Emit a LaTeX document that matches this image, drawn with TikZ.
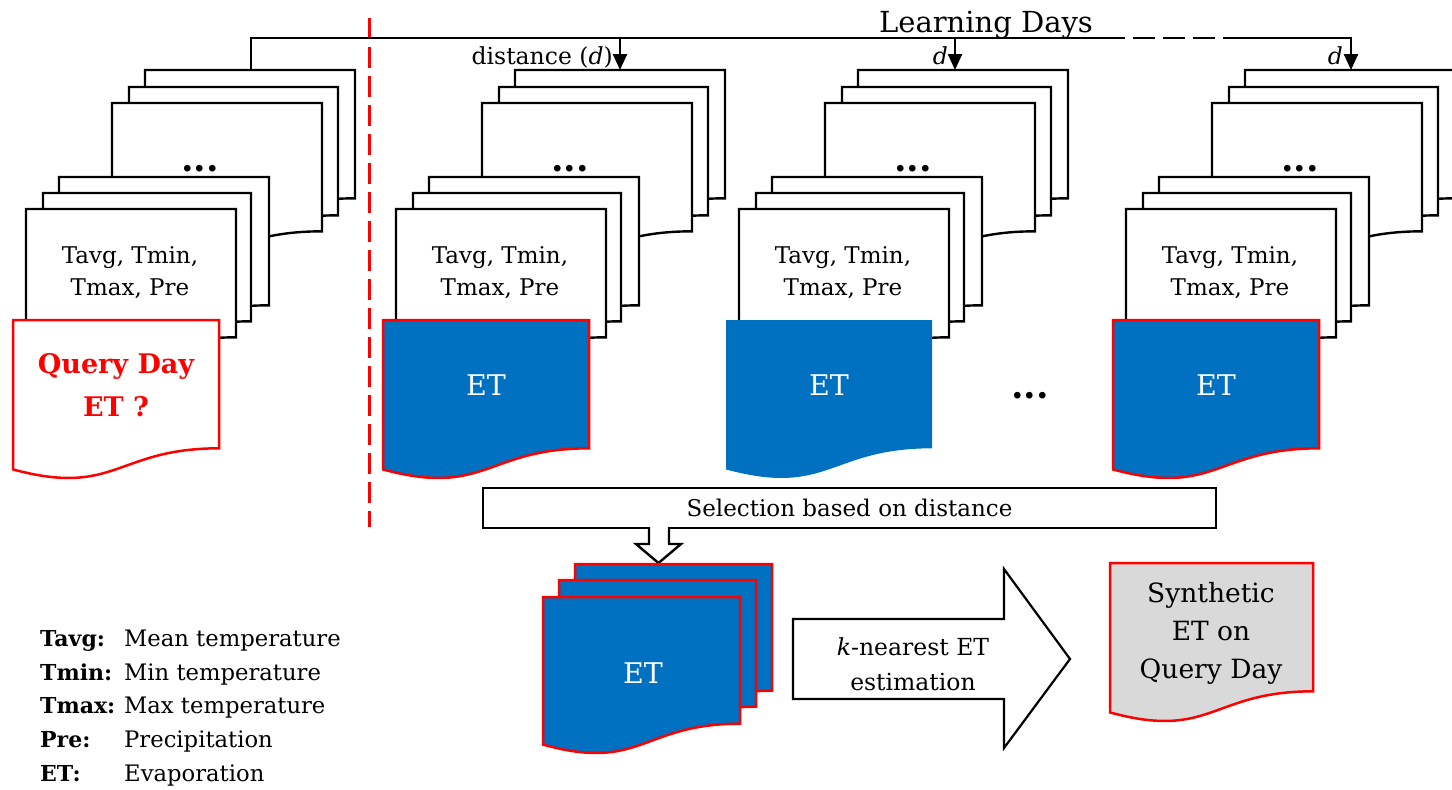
\documentclass[tikz,border=0pt]{standalone}
\usepackage{fontspec}
\setmainfont{DejaVu Serif}
\usetikzlibrary{arrows.meta}
\definecolor{etblue}{HTML}{0070C0}
\definecolor{synthgray}{HTML}{D9D9D9}
% document shape: style, left, top, width, height
\newcommand\mydoc[5]{\path[#1] (#2,#3) -- ({#2+#4},#3) -- ({#2+#4},{#3+0.802*#5}) .. controls ({#2+0.5*#4},{#3+0.802*#5}) and ({#2+0.5*#4},{#3+1.1075*#5}) .. (#2,{#3+0.934*#5}) -- cycle;}
% one day stack: offset, doc style, label style, label text, id
\newcommand\daystack[5]{%
\begin{scope}[xshift=#1]
\mydoc{page}{145}{70}{210}{160}
\mydoc{page}{129}{87}{209}{160}
\mydoc{page}{112}{103}{210}{160}
\node[dotslabel] (bdots#5) at (200,171) {...};
\mydoc{page}{59}{177}{210}{160}
\mydoc{page}{43}{193}{208}{160}
\mydoc{page}{26}{209}{210}{160}
\node[vartext] (vars#5) at (130,273) {Tavg, Tmin,\\Tmax, Pre};
\mydoc{#2}{13}{320}{206}{160}
\node[#3] (lab#5) at (116,385) {#4};
\end{scope}}
\begin{document}
\begin{tikzpicture}[x=1pt,y=-1pt,
  page/.style={draw=black,fill=white,line width=2.4pt},
  etred/.style={draw=red,fill=etblue,line width=2.5pt},
  etplain/.style={fill=etblue},
  qdoc/.style={draw=red,fill=white,line width=2.5pt},
  sdoc/.style={draw=red,fill=synthgray,line width=2.5pt},
  conn/.style={draw=black,line width=2.4pt},
  darrow/.style={conn,-{Triangle[width=14pt,length=16pt]}},
  vartext/.style={font=\fontsize{23}{32}\selectfont,align=center,inner sep=0pt},
  etlabel/.style={font=\fontsize{28.5}{34}\selectfont,text=white,inner sep=0pt},
  qlabel/.style={font=\bfseries\fontsize{27}{43}\selectfont,text=red,align=center,inner sep=0pt},
  dotslabel/.style={font=\bfseries\fontsize{36}{40}\selectfont,inner sep=0pt,anchor=base},
  toplabel/.style={font=\fontsize{29}{34}\selectfont,inner sep=0pt,anchor=base},
  dlabel/.style={font=\fontsize{23.5}{28}\selectfont,inner sep=0pt,anchor=base east},
  arrowtext/.style={font=\fontsize{23.5}{35}\selectfont,align=center,inner sep=0pt},
  synthtext/.style={font=\fontsize{26.5}{38}\selectfont,align=center,inner sep=0pt},
  leglab/.style={font=\bfseries\fontsize{22}{26}\selectfont,inner sep=0pt,anchor=base west},
  legdesc/.style={font=\fontsize{22.7}{26}\selectfont,inner sep=0pt,anchor=base west}
]
\useasboundingbox (0,0) rectangle (1452,790);
\clip (0,0) rectangle (1452,790);

% red separator
\coordinate (r1) at (369,18);
\coordinate (r2) at (369,527);
\draw[red,line width=3pt,dash pattern=on 21pt off 8pt] (r1) -- (r2);

% stacks
\daystack{0}{qdoc}{qlabel}{Query Day\\ET ?}{0}
\daystack{370}{etred}{etlabel}{ET}{1}
\daystack{713}{etplain}{etlabel}{ET}{2}
\daystack{1100}{etred}{etlabel}{ET}{3}

\node[dotslabel] (middots) at (1030,398) {...};

% top line
\coordinate (t0) at (251,70);
\coordinate (c0) at (251,38);
\coordinate (g1) at (1125,38);
\coordinate (g2) at (1133,38);
\coordinate (g3) at (1215,38);
\coordinate (g4) at (1223,38);
\coordinate (a1) at (620,38);
\coordinate (b1) at (620,70);
\coordinate (a2) at (955,38);
\coordinate (b2) at (955,70);
\coordinate (a3) at (1351,38);
\coordinate (b3) at (1351,70);
\draw[conn] (t0) -- (c0) -- (g1);
\draw[conn,dash pattern=on 22pt off 8pt] (g2) -- (g3);
\draw[darrow] (g4) -- (a3) -- (b3);
\draw[darrow] (a1) -- (b1);
\draw[darrow] (a2) -- (b2);

\node[toplabel] (learn) at (986,32) {Learning Days};
\node[dlabel] (dist1) at (613,64) {distance (\textit{d})};
\node[dlabel] (dist2) at (948,64) {\textit{d}};
\node[dlabel] (dist3) at (1343,64) {\textit{d}};

% selection
\node[draw=black,line width=2.4pt,minimum width=733pt,minimum height=40pt,inner sep=0pt,font=\fontsize{23}{28}\selectfont] (sel) at (849.5,508) {Selection based on distance};
\fill[white] (649,525) -- (649,544) -- (636,544) -- (658.5,563) -- (681,544) -- (669,544) -- (669,525) -- cycle;
\draw[conn] (649,527) -- (649,544) -- (636,544) -- (658.5,563) -- (681,544) -- (669,544) -- (669,527);

% selected ET
\mydoc{etred}{575}{564}{197}{158}
\mydoc{etred}{559}{580}{197}{158}
\mydoc{etred}{543}{597}{197}{158}
\node[etlabel] (selet) at (643,673) {ET};

% big arrow
\path[conn,fill=white,line width=2.2pt] (793,619) -- (1004,619) -- (1004,569) -- (1070,659) -- (1004,748) -- (1004,699) -- (793,699) -- cycle;
\node[arrowtext] (knn) at (913,664) {\textit{k}-nearest ET\\estimation};

% synthetic
\mydoc{sdoc}{1110}{563}{203}{160}
\node[synthtext] (syn) at (1211,633) {Synthetic\\ET on\\Query Day};

% legend
\node[leglab] (l1) at (40,646) {Tavg:};
\node[leglab] (l2) at (40,680) {Tmin:};
\node[leglab] (l3) at (40,713) {Tmax:};
\node[leglab] (l4) at (40,747) {Pre:};
\node[leglab] (l5) at (40,781) {ET:};
\node[legdesc] (e1) at (124,646) {Mean temperature};
\node[legdesc] (e2) at (124,680) {Min temperature};
\node[legdesc] (e3) at (124,713) {Max temperature};
\node[legdesc] (e4) at (124,747) {Precipitation};
\node[legdesc] (e5) at (124,781) {Evaporation};
\end{tikzpicture}
\end{document}
